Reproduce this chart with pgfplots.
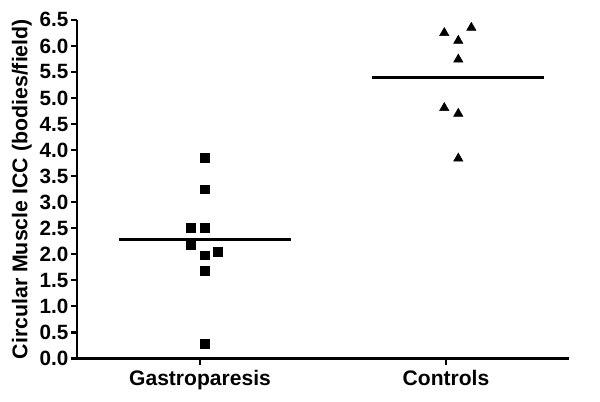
\documentclass[border=0pt]{standalone}
\usepackage{fontspec}
\setmainfont{Liberation Sans}
\usepackage{pgfplots}
\pgfplotsset{compat=1.18}

\begin{document}
\begin{tikzpicture}
  \begin{axis}[
    at={(0,0)}, anchor=origin,
    scale only axis,
    width=369pt, height=254pt,
    xmin=0.5, xmax=2.5,
    ymin=0, ymax=6.5,
    axis x line*=bottom, axis y line*=left,
    x axis line style={-, line width=1.6pt},
    y axis line style={-, line width=1.6pt},
    major tick style={line width=1.6pt, black},
    tick align=outside, major tick length=4.5pt,
    xtick={1,2}, xticklabels={Gastroparesis,Controls},
    ytick={0,0.5,...,6.5},
    /pgf/number format/fixed,
    /pgf/number format/fixed zerofill,
    /pgf/number format/precision=1,
    /pgf/number format/assume math mode=true,
    yticklabel style={font=\bfseries\fontsize{15.5}{17}\selectfont, xshift=1.5pt},
    xticklabel style={font=\bfseries\fontsize{15.8}{18}\selectfont, yshift=-1pt},
    ylabel={Circular Muscle ICC (bodies/field)},
    ylabel style={font=\bfseries\fontsize{16}{18}\selectfont, yshift=-1pt},
    clip=false,
  ]
    % Gastroparesis
    \addplot[only marks, mark=square*, mark size=3.3pt, black] coordinates {
      (1.019,3.85) (1.019,3.25) (0.962,2.51) (1.019,2.51)
      (0.962,2.18) (1.072,2.05) (1.019,1.98) (1.019,1.69) (1.019,0.29)
    };
    % Controls
    \addplot[only marks, mark=triangle*, mark size=4pt, black] coordinates {
      (2.103,6.35) (1.993,6.25) (2.050,6.10) (2.050,5.74)
      (1.993,4.81) (2.050,4.70) (2.050,3.84)
    };
    % means
    \addplot[black, line width=2pt] coordinates {(0.669,2.28) (1.368,2.28)};
    \addplot[black, line width=2pt] coordinates {(1.701,5.40) (2.399,5.40)};
  \end{axis}
  \pgfresetboundingbox
  \useasboundingbox (-57.75pt,-32.6pt) rectangle (392.25pt,268.9pt);
\end{tikzpicture}
\end{document}
